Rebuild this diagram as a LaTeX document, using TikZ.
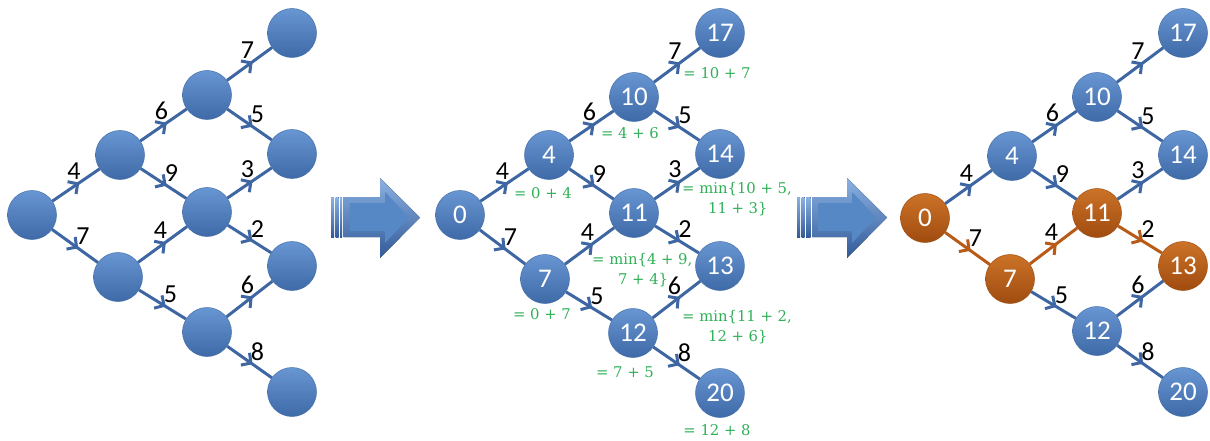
\documentclass[tikz,border=0pt]{standalone}
\usepackage{fontspec}
\setsansfont{Carlito}
\newfontfamily\notefont{DejaVu Serif}
\usetikzlibrary{arrows.meta,decorations.markings}
\definecolor{btop}{RGB}{104,150,210}
\definecolor{bbot}{RGB}{62,106,168}
\definecolor{bedge}{RGB}{70,112,170}
\definecolor{otop}{RGB}{204,114,40}
\definecolor{obot}{RGB}{160,76,16}
\definecolor{oedge}{RGB}{160,80,20}
\definecolor{eblue}{RGB}{62,102,162}
\definecolor{eorange}{RGB}{184,90,24}
\definecolor{ngreen}{RGB}{48,176,88}
\definecolor{arrlight}{RGB}{140,178,226}
\definecolor{arrdark}{RGB}{50,90,152}
\definecolor{arrmid}{RGB}{86,136,198}
\tikzset{
  vtx/.style={circle, minimum size=49pt, inner sep=0pt, top color=btop, bottom color=bbot,
    draw=bedge, line width=0.5pt, text=white, font=\sffamily\fontsize{27}{27}\selectfont},
  ovtx/.style={vtx, top color=otop, bottom color=obot, draw=oedge},
  conn/.style={eblue, line width=3pt, postaction={decorate},
    decoration={markings, mark=at position 0.57 with {\arrow{Straight Barb[length=7pt,width=15pt]}}}},
  oconn/.style={conn, eorange},
  lbl/.style={font=\sffamily\fontsize{26}{26}\selectfont, text=black, inner sep=0pt},
  uplbl/.style={lbl, pos=0.5, xshift=-2pt, yshift=14pt},
  dnlbl/.style={lbl, pos=0.5, xshift=8pt, yshift=10pt},
  note/.style={text=ngreen, font=\notefont\fontsize{14.8}{19.5}\selectfont, inner sep=0pt},
  bigarrow/.style={top color=arrlight, bottom color=arrdark, draw=none},
}
\begin{document}
\begin{tikzpicture}[x=1pt,y=-1pt]
\useasboundingbox (0,0) rectangle (1210,441);

% ---------- left lattice ----------
\begin{scope}[shift={(32,0)}, name prefix=L-]
  \node[vtx] (a)  at (0,215) {};
  \node[vtx] (b1) at (88,155) {};
  \node[vtx] (b2) at (86,277) {};
  \node[vtx] (c1) at (175,95) {};
  \node[vtx] (c2) at (175,212) {};
  \node[vtx] (c3) at (175,332) {};
  \node[vtx] (d1) at (260,33) {};
  \node[vtx] (d2) at (260,154) {};
  \node[vtx] (d3) at (260,266) {};
  \node[vtx] (d4) at (260,392) {};
  \draw[conn] (a) -- node[uplbl] (w1) {4} (b1);
  \draw[conn] (a) -- node[dnlbl] (w2) {7} (b2);
  \draw[conn] (b1) -- node[uplbl] (w3) {6} (c1);
  \draw[conn] (b1) -- node[dnlbl] (w4) {9} (c2);
  \draw[conn] (b2) -- node[uplbl] (w5) {4} (c2);
  \draw[conn] (b2) -- node[dnlbl] (w6) {5} (c3);
  \draw[conn] (c1) -- node[uplbl] (w7) {7} (d1);
  \draw[conn] (c1) -- node[dnlbl] (w8) {5} (d2);
  \draw[conn] (c2) -- node[uplbl] (w9) {3} (d2);
  \draw[conn] (c2) -- node[dnlbl] (w10) {2} (d3);
  \draw[conn] (c3) -- node[uplbl] (w11) {6} (d3);
  \draw[conn] (c3) -- node[dnlbl] (w12) {8} (d4);
\end{scope}

% ---------- middle lattice ----------
\begin{scope}[shift={(460,0)}, name prefix=M-]
  \node[vtx] (a)  at (0,215) {0};
  \node[vtx] (b1) at (89,155) {4};
  \node[vtx] (b2) at (85,279) {7};
  \node[vtx] (c1) at (174,97) {10};
  \node[vtx] (c2) at (174,213) {11};
  \node[vtx] (c3) at (173,333) {12};
  \node[vtx] (d1) at (260,33) {17};
  \node[vtx] (d2) at (260,154) {14};
  \node[vtx] (d3) at (260,266) {13};
  \node[vtx] (d4) at (260,393) {20};
  \draw[conn] (a) -- node[uplbl] (w1) {4} (b1);
  \draw[conn] (a) -- node[dnlbl] (w2) {7} (b2);
  \draw[conn] (b1) -- node[uplbl] (w3) {6} (c1);
  \draw[conn] (b1) -- node[dnlbl] (w4) {9} (c2);
  \draw[conn] (b2) -- node[uplbl] (w5) {4} (c2);
  \draw[conn] (b2) -- node[dnlbl] (w6) {5} (c3);
  \draw[conn] (c1) -- node[uplbl] (w7) {7} (d1);
  \draw[conn] (c1) -- node[dnlbl] (w8) {5} (d2);
  \draw[conn] (c2) -- node[uplbl] (w9) {3} (d2);
  \draw[conn] (c2) -- node[dnlbl] (w10) {2} (d3);
  \draw[conn] (c3) -- node[uplbl] (w11) {6} (d3);
  \draw[conn] (c3) -- node[dnlbl] (w12) {8} (d4);
\end{scope}

% notes
\node[note] (g1) at (543,193) {= 0 + 4};
\node[note] (g2) at (630,133) {= 4 + 6};
\node[note] (g3) at (717,73) {= 10 + 7};
\node[note, anchor=west, align=left] (g4) at (682,199) {= min\{10 + 5,\\\hspace{1.75em}11 + 3\}};
\node[note, anchor=west, align=left] (g5) at (592,270) {= min\{4 + 9,\\\hspace{1.75em}7 + 4\}};
\node[note] (g6) at (542,314) {= 0 + 7};
\node[note, anchor=west, align=left] (g7) at (682,327) {= min\{11 + 2,\\\hspace{1.75em}12 + 6\}};
\node[note] (g8) at (625,372) {= 7 + 5};
\node[note] (g9) at (717,430) {= 12 + 8};

% ---------- right lattice ----------
\begin{scope}[shift={(925,0)}, name prefix=R-]
  \node[ovtx] (a)  at (0,218) {0};
  \node[vtx]  (b1) at (87,156) {4};
  \node[ovtx] (b2) at (85,279) {7};
  \node[vtx]  (c1) at (172,97) {10};
  \node[ovtx] (c2) at (172,213) {11};
  \node[vtx]  (c3) at (172,331) {12};
  \node[vtx]  (d1) at (258,33) {17};
  \node[vtx]  (d2) at (258,155) {14};
  \node[ovtx] (d3) at (258,266) {13};
  \node[vtx]  (d4) at (258,392) {20};
  \draw[conn]  (a) -- node[uplbl] (w1) {4} (b1);
  \draw[oconn] (a) -- node[dnlbl] (w2) {7} (b2);
  \draw[conn]  (b1) -- node[uplbl] (w3) {6} (c1);
  \draw[conn]  (b1) -- node[dnlbl] (w4) {9} (c2);
  \draw[oconn] (b2) -- node[uplbl] (w5) {4} (c2);
  \draw[conn]  (b2) -- node[dnlbl] (w6) {5} (c3);
  \draw[conn]  (c1) -- node[uplbl] (w7) {7} (d1);
  \draw[conn]  (c1) -- node[dnlbl] (w8) {5} (d2);
  \draw[conn]  (c2) -- node[uplbl] (w9) {3} (d2);
  \draw[oconn] (c2) -- node[dnlbl] (w10) {2} (d3);
  \draw[conn]  (c3) -- node[uplbl] (w11) {6} (d3);
  \draw[conn]  (c3) -- node[dnlbl] (w12) {8} (d4);
\end{scope}

% ---------- big arrows ----------
\foreach \sx/\bx/\hx/\tx in {331/343.5/380/420, 797/812/847/887} {
  \fill[bigarrow] (\sx,197) rectangle ++(3,40);
  \fill[bigarrow] (\sx+4.5,197) rectangle ++(3,40);
  \fill[bigarrow] (\sx+9,197) rectangle (\bx-1.5,237);
  \fill[bigarrow] (\bx,197) -- (\hx,197) -- (\hx,178) -- (\tx,217.5)
     -- (\hx,258) -- (\hx,237) -- (\bx,237) -- cycle;
  \fill[arrmid] (\bx+6,203) -- (\hx+5,203) -- (\hx+5,192) -- (\tx-11,217.5)
     -- (\hx+5,243) -- (\hx+5,231) -- (\bx+6,231) -- cycle;
}
\end{tikzpicture}
\end{document}
